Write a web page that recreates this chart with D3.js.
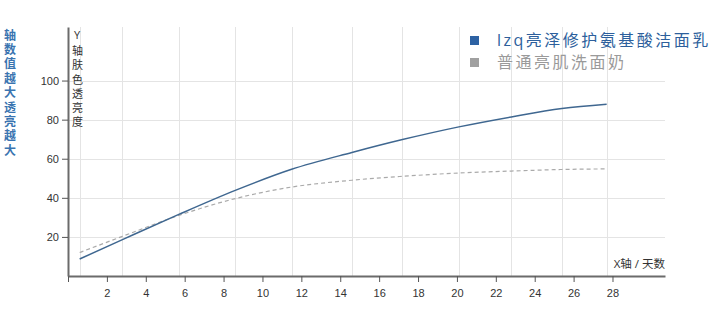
<!DOCTYPE html>
<html>
<head>
<meta charset="utf-8">
<script src="https://cdn.jsdelivr.net/npm/d3@7"></script>
<style>
  body { margin: 0; background: #fff; }
  svg { display: block; font-family: "Open Sans", "Noto Sans CJK SC", sans-serif; }
  .vertical { writing-mode: vertical-rl; text-orientation: upright; }
</style>
</head>
<body>
<svg id="chart" width="720" height="333"></svg>
<script>
// days on the X axis (each one also has a vertical grid line)
const days = [0.6, 2.8, 5.7, 8.6, 11.5, 14.6, 17.2, 20.1, 22.8, 25.4, 27.7];
// skin brightness for each product
const lzqValues = [8.7, 18.6, 31.5, 43.8, 54.6, 63.2, 69.8, 76.3, 81.4, 85.7, 87.9];
const normalValues = [12.0, 20.3, 31.0, 39.6, 45.5, 49.0, 51.0, 52.7, 53.7, 54.5, 54.8];
const seriesNames = ['lzq亮泽修护氨基酸洁面乳', '普通亮肌洗面奶'];
const xTicks = [0, 2, 4, 6, 8, 10, 12, 14, 16, 18, 20, 22, 24, 26, 28];
const yTicks = [20, 40, 60, 80, 100];

const svg = d3.select('#chart');

const x = d3.scaleLinear().domain([0, 30.7]).range([68, 665]);
const y = d3.scaleLinear().domain([0, 127.4]).range([276, 27]);

// grid lines
const grid = svg.append('g').attr('stroke', '#e4e4e4').attr('stroke-width', 1);
grid.selectAll('.vg').data(days).enter().append('line')
  .attr('x1', d => Math.round(x(d)) + 0.5).attr('x2', d => Math.round(x(d)) + 0.5)
  .attr('y1', y.range()[1]).attr('y2', y(0));
grid.selectAll('.hg').data(yTicks).enter().append('line')
  .attr('x1', x(0)).attr('x2', x.range()[1])
  .attr('y1', d => Math.round(y(d)) + 0.5).attr('y2', d => Math.round(y(d)) + 0.5);

// axes
const xAxis = svg.append('g')
  .attr('transform', `translate(0,${y(0)})`)
  .call(d3.axisBottom(x).tickValues(xTicks).tickSize(6).tickSizeOuter(0)
    .tickFormat(d => d === 0 ? '' : d));
const yAxis = svg.append('g')
  .attr('transform', `translate(${x(0)},0)`)
  .call(d3.axisLeft(y).tickValues(yTicks).tickSize(6).tickSizeOuter(0));

[xAxis, yAxis].forEach(ax => {
  ax.select('.domain').attr('stroke', '#6b6b6b').attr('stroke-width', 2);
  ax.selectAll('.tick line').attr('stroke', '#555');
  ax.selectAll('.tick text').attr('fill', '#333').attr('font-size', 11);
});
xAxis.selectAll('.tick text').attr('dy', '1.1em');

// lines
const line = d3.line().curve(d3.curveMonotoneX);
svg.append('path')
  .attr('d', line(days.map((d, i) => [x(d), y(normalValues[i])])))
  .attr('fill', 'none').attr('stroke', '#aaaaaa').attr('stroke-width', 1.2)
  .attr('stroke-dasharray', '4,3');
svg.append('path')
  .attr('d', line(days.map((d, i) => [x(d), y(lzqValues[i])])))
  .attr('fill', 'none').attr('stroke', '#3f6790').attr('stroke-width', 1.5);

// axis titles
svg.append('text')
  .attr('x', 665).attr('y', 268).attr('text-anchor', 'end')
  .attr('font-size', 11.5).attr('fill', '#333')
  .text('X轴 / 天数');

svg.append('text').attr('class', 'vertical')
  .attr('x', 77).attr('y', 27)
  .attr('font-size', 11).attr('letter-spacing', 3.3).attr('fill', '#333')
  .text('Y轴肤色透亮度');

svg.append('text').attr('class', 'vertical')
  .attr('x', 9).attr('y', 29)
  .attr('font-size', 12).attr('letter-spacing', 2.4).attr('font-weight', 'bold')
  .attr('fill', '#3a74b0')
  .text('轴数值越大透亮越大');

// legend
const legendColors = ['#2d62a3', '#a0a0a0'];
const legendText = ['#2d5f9c', '#9a9a9a'];
const legend = svg.append('g').selectAll('g').data(seriesNames).enter().append('g')
  .attr('transform', (d, i) => `translate(470,${36 + i * 22})`);
legend.append('rect').attr('width', 9).attr('height', 9)
  .attr('fill', (d, i) => legendColors[i]);
legend.append('text')
  .attr('x', 27).attr('y', 10).attr('font-size', 16).attr('letter-spacing', 2.5)
  .attr('fill', (d, i) => legendText[i])
  .text(d => d);
</script>
</body>
</html>
